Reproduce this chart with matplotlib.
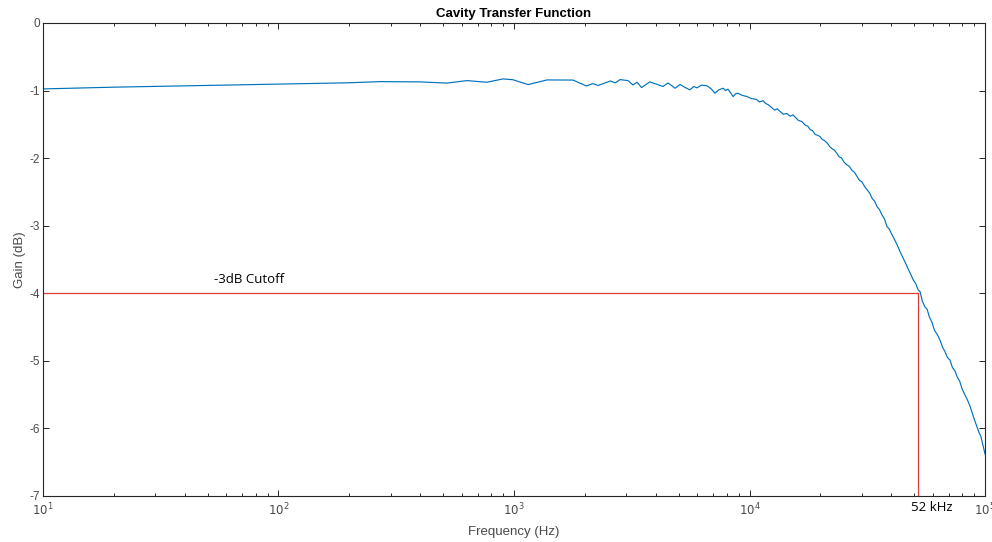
import matplotlib.pyplot as plt
from matplotlib.ticker import LogLocator, NullFormatter

freq_hz = [10, 20, 46, 100, 200, 270, 400, 518, 631, 767, 898, 990,
           1148, 1380, 1780, 2030, 2160, 2275, 2570, 2690, 2820, 3050,
           3200, 3330, 3480, 3770, 4040, 4290, 4510, 4830,
           5070, 5300, 5580, 5800, 5980, 6250, 6600, 6900, 7130, 7400,
           7730, 7900, 8100, 8300, 8520, 8700, 8920, 9300, 9770, 10200,
           10700, 11000, 11400, 11700, 12000, 12400, 12800, 13100, 13500,
           13900, 14400, 14900, 15300, 15600, 16100, 16700, 17200, 17700,
           18100, 18500, 19000, 19400, 19900, 20300, 20800, 21400, 21900,
           22400, 22900, 23500, 24000, 24600, 25200, 25900, 26500, 27200,
           27900, 28600, 29300, 30000, 30800, 31600, 32400, 33200, 34000,
           34800, 35600, 36500, 37400, 38300, 39200, 40200, 41200, 42300,
           43500, 44900, 45900, 47000, 48200, 49500, 50800, 52000, 53000,
           54200, 55500, 56800, 58000, 59500, 61000, 62700, 64500, 66000,
           67500, 69200, 71000, 72700, 74500, 76200, 78000, 80000, 82000,
           84200, 86500, 89500, 92500, 94200, 96000, 98000, 100000]
gain_db = [-0.976, -0.95, -0.927, -0.905, -0.885, -0.868, -0.872, -0.89,
           -0.853, -0.877, -0.828, -0.84, -0.912, -0.843, -0.845, -0.932,
           -0.897, -0.925, -0.858, -0.887, -0.838, -0.853, -0.917, -0.877,
           -0.956, -0.872, -0.907, -0.94, -0.888, -0.966,
           -0.91, -0.95, -0.99, -0.94, -0.96, -0.92, -0.93, -0.98, -1.04,
           -0.99, -0.966, -1.00, -0.98, -1.03, -1.09, -1.05, -1.04, -1.07,
           -1.09, -1.12, -1.13, -1.17, -1.15, -1.19, -1.21, -1.25, -1.29,
           -1.27, -1.31, -1.35, -1.34, -1.38, -1.36, -1.39, -1.44, -1.46,
           -1.51, -1.53, -1.58, -1.59, -1.65, -1.66, -1.68, -1.72, -1.74,
           -1.78, -1.83, -1.86, -1.88, -1.93, -1.98, -2.00, -2.06, -2.10,
           -2.12, -2.18, -2.21, -2.27, -2.33, -2.35, -2.42, -2.47, -2.52,
           -2.60, -2.64, -2.72, -2.76, -2.84, -2.90, -3.01, -3.05, -3.13,
           -3.20, -3.28, -3.38, -3.48, -3.55, -3.63, -3.71, -3.80, -3.86,
           -3.95, -3.98, -4.12, -4.20, -4.24, -4.35, -4.43, -4.55, -4.61,
           -4.70, -4.80, -4.86, -4.95, -4.99, -5.10, -5.15, -5.24, -5.30,
           -5.42, -5.50, -5.58, -5.68, -5.84, -5.98, -6.06, -6.12, -6.25,
           -6.38]

cutoff_hz = 52000
cutoff_db = -4
x_ticks = [10, 100, 1000, 10000, 100000]
x_tick_labels = ['$10^1$', '$10^2$', '$10^3$', '$10^4$', '$10^5$']
y_ticks = [-7, -6, -5, -4, -3, -2, -1, 0]

axis_color = '#262626'
label_color = '#4a4a4a'
plt.rcParams['font.family'] = 'Liberation Sans'
plt.rcParams['axes.unicode_minus'] = False

fig = plt.figure(figsize=(9.92, 5.42), dpi=100)
ax = fig.add_axes([0.0433, 0.085, 0.9497, 0.8726])

ax.semilogx(freq_hz, gain_db, color='#0072BD', lw=0.85)
ax.plot([10, cutoff_hz], [cutoff_db, cutoff_db], color='#e03c3c', lw=0.9)
ax.plot([cutoff_hz, cutoff_hz], [-7, cutoff_db], color='#e03c3c', lw=0.9)

ax.text(53.5, -3.80, '-3dB Cutoff', fontsize=9.5, family='Open Sans',
        color='black', va='center', ha='left')
ax.annotate('52 kHz', xy=(cutoff_hz, -7), xytext=(-7, -5),
            textcoords='offset pixels', fontsize=9.5, family='Open Sans',
            ha='left', va='top', annotation_clip=False)

ax.set_xlim(10, 100000)
ax.set_ylim(-7, 0)
ax.set_xticks(x_ticks)
ax.set_xticklabels(x_tick_labels)
ax.xaxis.set_minor_locator(LogLocator(base=10, subs=range(2, 10)))
ax.xaxis.set_minor_formatter(NullFormatter())
ax.set_yticks(y_ticks)

for side in ax.spines.values():
    side.set_color(axis_color)
    side.set_linewidth(0.8)
ax.tick_params(which='both', direction='in', top=True, right=True,
               color=axis_color, labelcolor=label_color, labelsize=8.5,
               width=0.7)
ax.tick_params(which='major', length=4)
ax.tick_params(which='minor', length=2.5)
ax.tick_params(axis='x', pad=4)
ax.tick_params(axis='y', pad=2)

ax.set_title('Cavity Transfer Function', fontsize=9.5, fontweight='bold',
             color='black', pad=4)
ax.set_xlabel('Frequency (Hz)', fontsize=9.5, color=label_color, labelpad=6)
ax.set_ylabel('Gain (dB)', fontsize=9.5, color=label_color, labelpad=3)

fig.savefig('out.png', dpi=100)
